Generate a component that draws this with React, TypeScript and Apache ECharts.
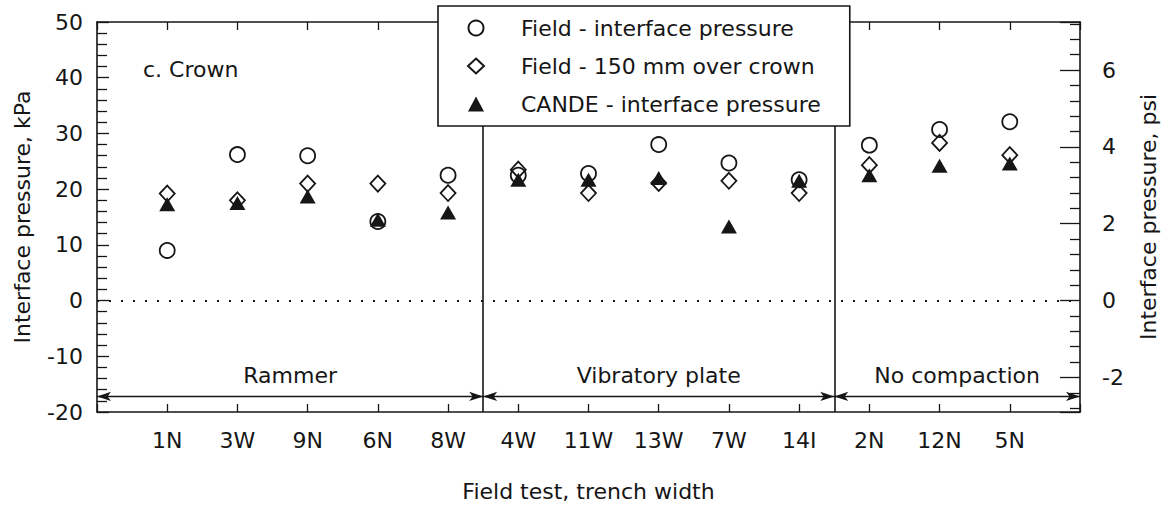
import React, { useEffect, useRef } from "react";
import * as echarts from "echarts";

const categories = ["1N", "3W", "9N", "6N", "8W", "4W", "11W", "13W", "7W", "14I", "2N", "12N", "5N"];
const fieldInterface = [9, 26.2, 26, 14.2, 22.5, 22.5, 22.8, 28, 24.7, 21.7, 27.9, 30.7, 32.1];
const field150 = [19.2, 18, 21, 21, 19.3, 23.5, 19.3, 21.1, 21.5, 19.3, 24.3, 28.3, 26.1];
const cande = [17.3, 17.5, 18.7, 14.5, 15.8, 21.7, 21.7, 22, 13.3, 21.5, 22.5, 24.2, 24.6];
const seriesNames = ["Field - interface pressure", "Field - 150 mm over crown", "CANDE - interface pressure"];
const groupNames = ["Rammer", "Vibratory plate", "No compaction"];
const groupEdges = [0, 5.5, 10.5, 14];
const groupArrowLevel = -17.2;
const kpaMin = -20;
const kpaMax = 50;
const KPA_PER_PSI = 6.894757;

export default function App() {
  const ref = useRef<HTMLDivElement>(null);
  useEffect(() => {
    document.body.style.margin = "0";
    document.body.style.overflow = "hidden";
    const chart = echarts.init(ref.current!, null, { renderer: "svg" });
    const font = "DejaVu Sans";
    const ink = "#161616";
    const toPts = (arr: number[]) => arr.map((v, i) => [i + 1, v]);
    const axisLine = { show: true, onZero: false, lineStyle: { color: ink, width: 1.6 } };
    const txt = { fontFamily: font, fontSize: 22, color: ink };

    const arrowData = groupNames.map((name, i) => [
      { coord: [groupEdges[i], groupArrowLevel], name, symbol: "arrow" },
      { coord: [groupEdges[i + 1], groupArrowLevel], symbol: "arrow" },
    ]);

    const option: any = {
      animation: false,
      title: {
        text: "c. Crown",
        left: 143,
        top: 58,
        padding: 0,
        textStyle: { ...txt, fontWeight: "normal" },
      },
      legend: {
        orient: "vertical",
        left: 438,
        top: 6,
        data: seriesNames,
        backgroundColor: "#fff",
        borderColor: ink,
        borderWidth: 1.6,
        borderRadius: 0,
        padding: [11, 29, 11, 29],
        itemWidth: 16,
        itemHeight: 15,
        itemGap: 16,
        selectedMode: false,
        textStyle: { ...txt, lineHeight: 22, padding: [0, 0, 0, 32] },
        z: 10,
      },
      grid: { left: 97, right: 95, top: 22, bottom: 94 },
      xAxis: [
        {
          type: "value",
          min: 0,
          max: 14,
          interval: 1,
          position: "bottom",
          axisLine,
          axisTick: { inside: true, length: 8, lineStyle: { color: ink, width: 1.3 } },
          splitLine: { show: false },
          axisLabel: {
            ...txt,
            margin: 17,
            formatter: (v: number) => categories[v - 1] ?? "",
          },
          name: "Field test, trench width",
          nameLocation: "middle",
          nameGap: 68,
          nameTextStyle: txt,
        },
        {
          type: "value",
          min: 0,
          max: 14,
          interval: 1,
          position: "top",
          axisLine,
          axisTick: { inside: true, length: 8, lineStyle: { color: ink, width: 1.3 } },
          splitLine: { show: false },
          axisLabel: { show: false },
        },
      ],
      yAxis: [
        {
          type: "value",
          min: kpaMin,
          max: kpaMax,
          interval: 10,
          position: "left",
          axisLine,
          axisTick: { inside: true, length: 12, lineStyle: { color: ink, width: 1.3 } },
          minorTick: { show: true, splitNumber: 5, length: 10, lineStyle: { color: ink, width: 1.3 } },
          splitLine: { show: false },
          axisLabel: { ...txt, margin: 14 },
          name: "Interface pressure, kPa",
          nameLocation: "middle",
          nameRotate: 90,
          nameGap: 64,
          nameTextStyle: txt,
        },
        {
          type: "value",
          min: kpaMin / KPA_PER_PSI,
          max: kpaMax / KPA_PER_PSI,
          splitNumber: 5,
          position: "right",
          axisLine,
          axisTick: { inside: true, length: 20, lineStyle: { color: ink, width: 1.3 } },
          minorTick: { show: true, splitNumber: 5, length: 10, lineStyle: { color: ink, width: 1.3 } },
          splitLine: { show: false },
          axisLabel: {
            ...txt,
            margin: 22,
            showMinLabel: false,
            showMaxLabel: false,
            formatter: (v: number) => (Math.abs(v - Math.round(v)) < 1e-6 ? String(Math.round(v)) : ""),
          },
          name: "Interface pressure, psi",
          nameLocation: "middle",
          nameRotate: 90,
          nameGap: 57,
          nameTextStyle: txt,
        },
      ],
      series: [
        {
          name: seriesNames[0],
          type: "scatter",
          data: toPts(fieldInterface),
          symbol: "circle",
          symbolSize: 15,
          itemStyle: { color: "rgba(255,255,255,0)", borderColor: ink, borderWidth: 1.8, opacity: 1 },
          markLine: {
            silent: true,
            symbol: "none",
            label: { show: false },
            data: [
              { yAxis: 0, lineStyle: { type: [2, 10], width: 2, color: ink } },
              { xAxis: groupEdges[1], lineStyle: { type: "solid", width: 1.6, color: ink } },
              { xAxis: groupEdges[2], lineStyle: { type: "solid", width: 1.6, color: ink } },
            ],
          },
        },
        {
          name: seriesNames[1],
          type: "scatter",
          data: toPts(field150),
          symbol: "diamond",
          symbolSize: [15, 16],
          itemStyle: { color: "rgba(255,255,255,0)", borderColor: ink, borderWidth: 1.8, opacity: 1 },
          markLine: {
            silent: true,
            symbolSize: [7, 14],
            lineStyle: { type: "solid", width: 1.3, color: ink },
            label: {
              show: true,
              position: "insideMiddleTop",
              distance: 10,
              formatter: "{b}",
              ...txt,
            },
            data: arrowData,
          },
        },
        {
          name: seriesNames[2],
          type: "scatter",
          data: toPts(cande),
          symbol: "triangle",
          symbolSize: [16, 14],
          itemStyle: { color: ink, opacity: 1 },
        },
      ],
    };
    chart.setOption(option);
    return () => chart.dispose();
  }, []);
  return <div ref={ref} style={{ width: 1175, height: 507 }} />;
}
